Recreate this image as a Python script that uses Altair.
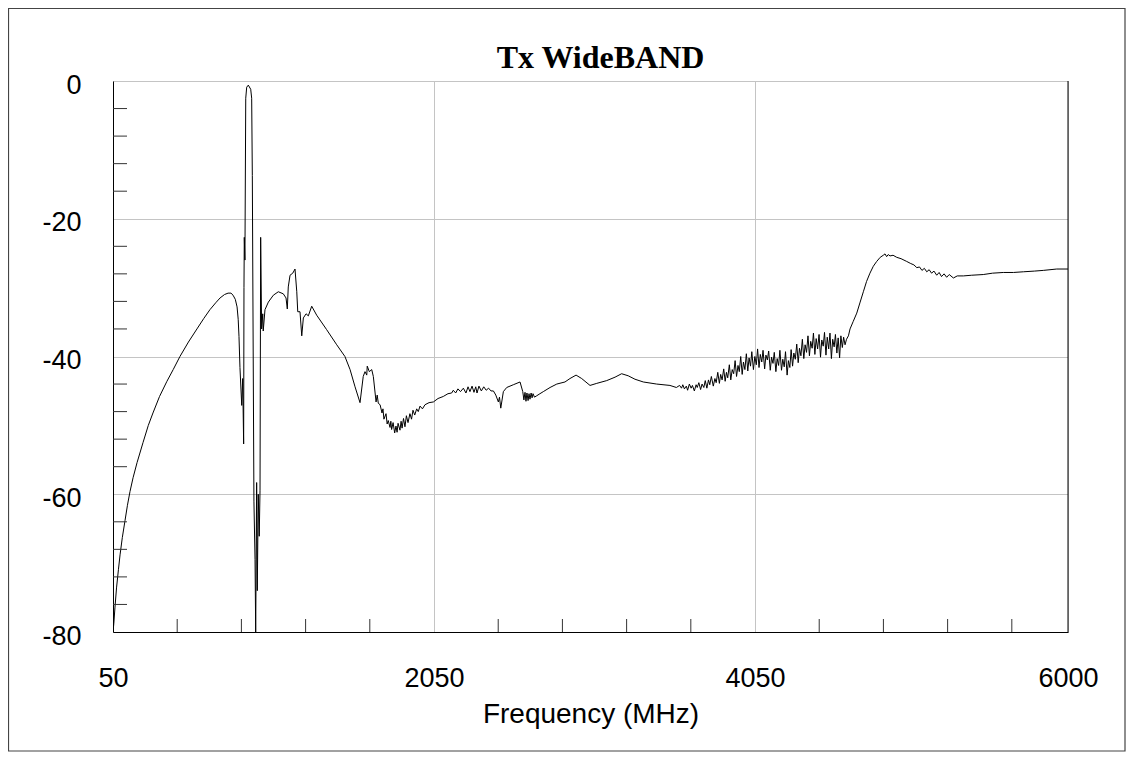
import altair as alt
import pandas as pd

# ---- data: (frequency MHz, level dB) ----
low_band = [
    (50, -80.0), (55, -78.8), (62, -76.5), (72, -73.6), (84, -70.9), (94, -68.8),
    (108, -66.3), (125, -63.8), (140, -61.6), (156, -59.6), (175, -57.6), (200, -55.4),
    (237, -52.5), (270, -50.0), (299, -48.2), (340, -45.8), (386, -43.6), (425, -41.9),
    (467, -40.0), (520, -37.9), (573, -36.0), (615, -34.5), (654, -33.2), (690, -32.2),
    (717, -31.5), (745, -31.0), (767, -30.8), (785, -30.8), (798, -31.1), (812, -31.7),
    (823, -32.8), (830, -34.6), (835, -37.1), (841, -41.6), (852, -47.1), (858, -43.2),
    (864, -52.7), (866, -30.0), (868, -22.7), (872, -26.0), (877, -2.5), (883, -0.9),
    (893, -0.6), (908, -1.2), (914, -2.5), (918, -13.7), (928, -61.0), (935, -69.5),
    (939, -80.0), (945, -58.3), (949, -74.0), (955, -60.0), (961, -66.1), (966, -59.5),
    (970, -22.7), (976, -36.0), (983, -33.8), (986, -36.3), (997, -33.2), (1018, -32.1),
    (1049, -31.1), (1080, -30.6), (1111, -30.9), (1128, -31.5), (1136, -33.1),
    (1142, -29.9), (1153, -28.2), (1170, -27.9), (1184, -27.3), (1195, -30.6),
    (1201, -33.5), (1215, -33.5), (1226, -37.0), (1236, -34.4), (1253, -33.8),
    (1267, -34.1), (1288, -32.7), (1319, -34.0), (1381, -36.1), (1444, -38.3),
    (1495, -40.0), (1527, -41.9), (1558, -44.4), (1589, -46.7), (1609, -42.9),
    (1620, -42.2), (1631, -42.7), (1634, -41.4), (1647, -42.2), (1662, -41.9),
    (1672, -42.9), (1689, -46.6), (1696, -45.6), (1703, -46.8),
]

mid_band = [
    (1714, -47.0), (1726, -48.2), (1732, -47.6), (1738, -49.1), (1751, -48.3),
    (1758, -49.8), (1765, -49.3), (1776, -50.3), (1781, -49.4), (1786, -50.6),
    (1795, -49.6), (1805, -51.1), (1813, -50.1), (1820, -51.0), (1826, -49.7),
    (1838, -50.7), (1845, -49.4), (1851, -50.4), (1860, -49.0), (1869, -50.2),
    (1878, -48.6), (1888, -49.6), (1900, -48.3), (1910, -49.1), (1919, -47.8),
    (1930, -48.5), (1942, -47.6), (1952, -48.0), (1963, -47.2), (1978, -47.6),
    (1994, -47.0), (2019, -46.7), (2046, -46.6), (2075, -46.1), (2108, -45.8),
    (2137, -45.4), (2160, -45.3), (2170, -44.9), (2185, -45.3), (2199, -44.7),
    (2215, -45.1), (2233, -44.6), (2249, -45.3), (2262, -44.4), (2274, -45.1),
    (2287, -44.3), (2299, -45.2), (2310, -44.4), (2318, -45.3), (2330, -44.3),
    (2345, -45.0), (2360, -44.4), (2375, -44.9), (2390, -44.6), (2405, -45.0),
    (2420, -45.0), (2435, -45.6), (2451, -46.6), (2458, -45.9), (2466, -47.5),
    (2482, -45.1), (2503, -44.5), (2544, -44.1), (2586, -43.7), (2603, -45.1),
    (2610, -46.3), (2617, -45.2), (2623, -46.5), (2629, -45.3), (2636, -46.4),
    (2642, -45.4), (2648, -46.2), (2655, -45.3), (2661, -46.0), (2667, -45.4),
    (2676, -45.9), (2690, -45.7), (2710, -45.4), (2731, -45.1), (2773, -44.5),
    (2815, -44.0), (2866, -43.7), (2897, -43.2), (2935, -42.7), (2970, -43.2),
    (3022, -44.2), (3064, -43.9), (3126, -43.5), (3178, -43.0), (3219, -42.5),
    (3260, -42.8), (3302, -43.3), (3354, -43.7), (3437, -44.0), (3520, -44.2),
    (3560, -44.5),
]

noisy_band = [
    (3580, -44.2), (3592, -44.6), (3600, -44.1), (3610, -44.7), (3622, -44.3),
    (3630, -44.9), (3641, -44.0), (3652, -44.6), (3660, -44.2), (3672, -45.0),
    (3683, -44.1), (3690, -44.5), (3700, -43.8), (3711, -44.8), (3720, -44.0),
    (3731, -44.5), (3740, -43.5), (3750, -44.6), (3760, -43.4), (3768, -44.1),
    (3778, -42.9), (3790, -44.3), (3800, -43.2), (3808, -43.8), (3818, -42.3),
    (3828, -43.9), (3836, -42.6), (3845, -43.4), (3855, -41.8), (3864, -43.6),
    (3872, -42.3), (3880, -43.1), (3890, -41.2), (3899, -43.4), (3908, -41.9),
    (3917, -42.5), (3926, -40.6), (3935, -42.9), (3944, -41.3), (3952, -42.2),
    (3961, -40.0), (3970, -42.6), (3978, -40.8), (3987, -41.9), (3996, -39.6),
    (4005, -42.1), (4013, -40.2), (4022, -41.4), (4030, -39.3), (4040, -41.9),
    (4049, -40.0), (4058, -41.2), (4066, -38.9), (4075, -41.6), (4083, -39.7),
    (4092, -40.8), (4100, -39.1), (4110, -41.8), (4118, -39.8), (4127, -40.5),
    (4135, -39.2), (4145, -42.0), (4153, -40.1), (4162, -41.0), (4170, -39.4),
    (4180, -42.2), (4188, -40.3), (4197, -41.3), (4205, -39.1), (4215, -42.0),
    (4223, -40.4), (4232, -41.5), (4240, -39.3), (4250, -42.7), (4258, -40.6),
    (4267, -41.6), (4275, -39.0), (4284, -41.4), (4292, -39.5), (4301, -40.4),
    (4310, -38.2), (4319, -40.9), (4327, -38.8), (4336, -39.9), (4345, -37.5),
    (4354, -40.3), (4362, -38.3), (4371, -39.4), (4380, -37.0), (4389, -39.9),
    (4397, -37.8), (4406, -38.8), (4414, -36.6), (4423, -39.7), (4431, -37.4),
    (4440, -38.9), (4449, -36.8), (4458, -40.1), (4466, -37.6), (4475, -38.5),
    (4483, -36.5), (4492, -39.8), (4500, -37.2), (4509, -38.9), (4517, -36.6),
    (4526, -40.3), (4534, -37.5), (4543, -38.6), (4551, -36.8), (4560, -39.5),
    (4568, -37.3), (4577, -40.2), (4585, -37.0), (4594, -38.7), (4602, -37.2),
    (4611, -38.3), (4620, -37.5), (4632, -37.0), (4642, -36.0),
]

high_band = [
    (4662, -34.9), (4684, -33.7), (4705, -32.1), (4725, -30.6), (4745, -29.1),
    (4766, -27.9), (4787, -26.9), (4808, -26.2), (4830, -25.6), (4849, -25.3),
    (4860, -25.1), (4870, -25.5), (4880, -25.2), (4891, -25.4), (4910, -25.3),
    (4933, -25.6), (4960, -25.8), (4995, -26.2), (5020, -26.5), (5040, -26.7),
    (5058, -27.1), (5075, -27.0), (5090, -27.5), (5105, -27.2), (5120, -27.7),
    (5135, -27.4), (5150, -27.9), (5165, -27.6), (5182, -28.2), (5197, -27.8),
    (5212, -28.4), (5228, -28.0), (5244, -28.5), (5260, -28.1), (5286, -28.6),
    (5310, -28.3), (5348, -28.3), (5400, -28.2), (5472, -28.1), (5530, -27.9),
    (5597, -27.8), (5660, -27.8), (5722, -27.7), (5790, -27.6), (5846, -27.5),
    (5930, -27.3), (6000, -27.3),
]

x_tick_labels = [50, 2050, 4050, 6000]
y_tick_labels = [0, -20, -40, -60, -80]
x_minor_ticks = [450, 850, 1250, 1650, 2450, 2850, 3250, 3650, 4450, 4850, 5250, 5650]
y_minor_ticks = [-4, -8, -12, -16, -24, -28, -32, -36, -44, -48, -52, -56, -64, -68, -72, -76]

title_text = "Tx WideBAND"
x_title = "Frequency (MHz)"

W, H = 955, 551
PAD = {"left": 105, "top": 73, "right": 58, "bottom": 120}
FONT = "Liberation Sans"

trace = low_band + mid_band + noisy_band + high_band
df = pd.DataFrame(trace, columns=["f", "db"])
xt = pd.DataFrame({"f": x_minor_ticks})
yt = pd.DataFrame({"db": y_minor_ticks})
tt = pd.DataFrame({"t": [title_text]})

xscale = alt.Scale(domain=[50, 6000], nice=False, zero=False)
yscale = alt.Scale(domain=[-80, 0], nice=False, zero=False)

line = alt.Chart(df).mark_line(color="black", strokeWidth=1, clip=True).encode(
    x=alt.X("f:Q", scale=xscale, title=x_title,
            axis=alt.Axis(values=x_tick_labels, grid=True, gridColor="#c4c4c4",
                          ticks=False, domainColor="black", labelFlush=False,
                          labelFont=FONT, labelFontSize=27, labelColor="black",
                          labelPadding=33, titleFont=FONT, titleFontSize=28,
                          titleFontWeight="normal", titleColor="black",
                          titleBaseline="alphabetic", titleY=90,
                          labelExpr="datum.value + ''")),
    y=alt.Y("db:Q", scale=yscale, title=None,
            axis=alt.Axis(values=y_tick_labels, grid=True, gridColor="#c4c4c4",
                          ticks=False, domainColor="black", labelFont=FONT,
                          labelFontSize=27, labelColor="black", labelPadding=32,
                          labelBaseline="middle", labelOffset=4, labelFlush=False,
                          labelExpr="datum.value + ''")),
)

xticks = alt.Chart(xt).mark_rule(color="#333", strokeWidth=1).encode(
    x=alt.X("f:Q", scale=xscale, title=x_title),
    y=alt.value(H), y2=alt.value(H - 13),
)

yticks = alt.Chart(yt).mark_rule(color="#333", strokeWidth=1).encode(
    y=alt.Y("db:Q", scale=yscale, title=None),
    x=alt.value(0), x2=alt.value(14),
)

right_edge = alt.Chart(tt).mark_rule(color="black", strokeWidth=1).encode(
    x=alt.value(W), y=alt.value(0), y2=alt.value(H),
)

border = alt.Chart(tt).mark_rect(fill=None, stroke="#444", strokeWidth=1.2).encode(
    x=alt.value(-PAD["left"] + 0.5), x2=alt.value(W + PAD["right"] - 1),
    y=alt.value(-PAD["top"] + 0.5), y2=alt.value(H + PAD["bottom"] - 1),
)

title = alt.Chart(tt).mark_text(font="Liberation Serif", fontSize=32,
                                fontWeight="bold", color="black",
                                align="center", baseline="alphabetic").encode(
    text="t:N", x=alt.value(W / 2 + 10), y=alt.value(-13),
)

chart = alt.layer(line, xticks, yticks, right_edge, border, title).properties(
    width=W, height=H,
    padding=PAD,
    autosize="none",
).configure_view(stroke="#808080", strokeWidth=1).configure(background="white")

chart.save("out.html", embed_options={"renderer": "svg", "actions": False})
